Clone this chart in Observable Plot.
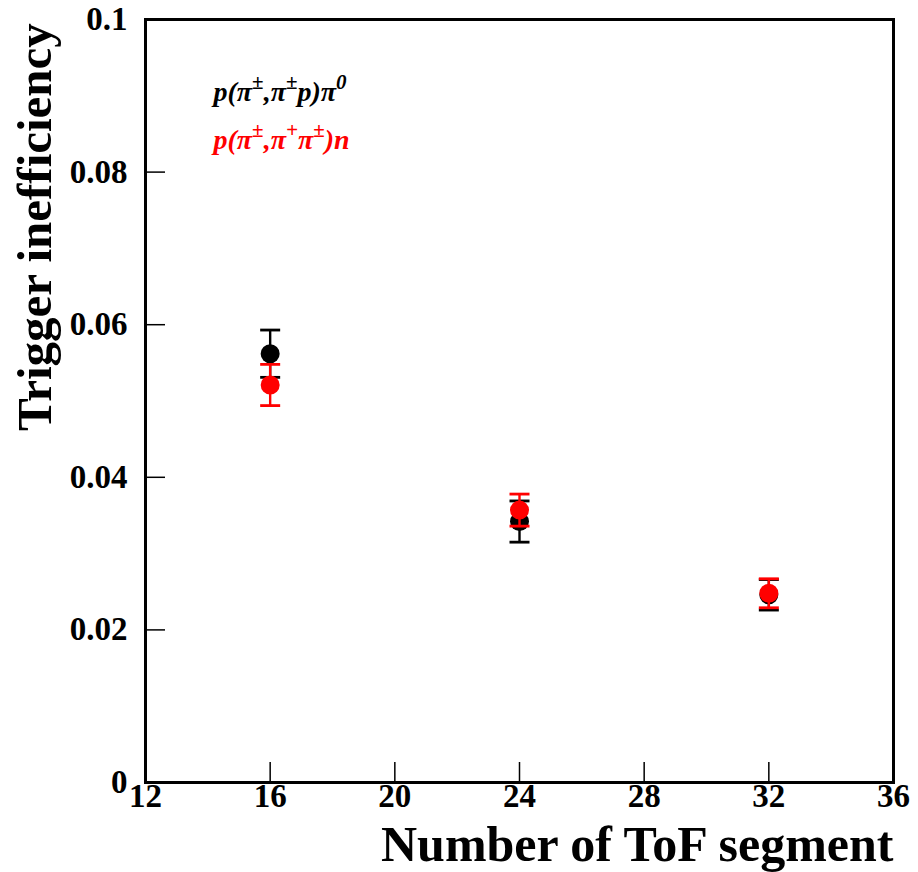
<!DOCTYPE html>
<html>
<head>
<meta charset="utf-8">
<script src="https://cdn.jsdelivr.net/npm/d3@7"></script>
<script src="https://cdn.jsdelivr.net/npm/@observablehq/plot@0.6"></script>
<style>
  html, body { margin: 0; padding: 0; background: #fff; }
  #chart svg { display: block; }
</style>
</head>
<body>
<div id="chart"></div>
<script>
// ---- data ----
const segments = [16, 24, 32];
const chargedPiValues = [0.0562, 0.0342, 0.0246];   // p(π±,π±p)π0 (black)
const chargedPiErrors = [0.0031, 0.0027, 0.0020];
const threePiValues   = [0.0521, 0.0357, 0.0248];   // p(π±,π+π±)n (red)
const threePiErrors   = [0.0027, 0.0021, 0.0019];

const xTicks = [12, 16, 20, 24, 28, 32, 36];
const xTickLabels = ["12", "16", "20", "24", "28", "32", "36"];
const yTicks = [0, 0.02, 0.04, 0.06, 0.08, 0.1];
const yTickLabels = ["0", "0.02", "0.04", "0.06", "0.08", "0.1"];

const seriesNames = ["p(π±,π±p)π0", "p(π±,π+π±)n"];
const seriesColors = ["#000000", "#ff0000"];
// rich-text pieces for legend labels: [text, isSuperscript]
const legendParts = [
  [["p(π", 0], ["±", 1], [",π", 0], ["±", 1], ["p)π", 0], ["0", 1]],
  [["p(π", 0], ["±", 1], [",π", 0], ["+", 1], ["π", 0], ["±", 1], [")n", 0]]
];

const xTitle = "Number of ToF segment";
const yTitle = "Trigger inefficiency";

// ---- build ----
const black = segments.map((s, i) => ({x: s, v: chargedPiValues[i], e: chargedPiErrors[i]}));
const red = segments.map((s, i) => ({x: s, v: threePiValues[i], e: threePiErrors[i]}));

const W = 918, H = 872;
const mL = 145, mR = 25, mT = 19, mB = 90;
const frameW = W - mL - mR, frameH = H - mT - mB;
const tickLen = 20;
const font = "'Liberation Serif', 'Times New Roman', serif";

const capSymbol = {
  draw(context, size) {
    const r = 10;
    context.moveTo(-r, 0);
    context.lineTo(r, 0);
  }
};

function errMarks(data, color) {
  return [
    Plot.ruleX(data, {x: "x", y1: d => d.v - d.e, y2: d => d.v + d.e, stroke: color, strokeWidth: 2.4}),
    Plot.dot(data, {x: "x", y: d => d.v + d.e, symbol: capSymbol, stroke: color, strokeWidth: 2.8, fill: "none"}),
    Plot.dot(data, {x: "x", y: d => d.v - d.e, symbol: capSymbol, stroke: color, strokeWidth: 2.8, fill: "none"}),
    Plot.dot(data, {x: "x", y: "v", r: 9.5, fill: color, stroke: "none"})
  ];
}

const chart = Plot.plot({
  width: W,
  height: H,
  marginLeft: mL, marginRight: mR, marginTop: mT, marginBottom: mB,
  style: {fontFamily: font, background: "#fff", overflow: "visible"},
  x: {domain: [12, 36], axis: null},
  y: {domain: [0, 0.1], axis: null},
  marks: [
    // inward ticks
    Plot.ruleX(xTicks, {x: d => d, insetTop: frameH - tickLen, stroke: "#000", strokeWidth: 1.5}),
    Plot.ruleY(yTicks, {y: d => d, insetRight: frameW - tickLen, stroke: "#000", strokeWidth: 1.5}),
    Plot.frame({stroke: "#000", strokeWidth: 3}),
    // tick labels
    Plot.text(xTicks, {x: d => d, text: (d, i) => xTickLabels[i], frameAnchor: "bottom", dy: 24,
      fontSize: 33, fontWeight: "bold", fill: "#000"}),
    Plot.text(yTicks, {y: d => d, text: (d, i) => yTickLabels[i], frameAnchor: "left", dx: -18,
      textAnchor: "end", fontSize: 33, fontWeight: "bold", fill: "#000"}),
    // axis titles
    Plot.text([xTitle], {text: d => d, frameAnchor: "bottom-right", textAnchor: "end", lineAnchor: "bottom",
      dy: 78, fontSize: 50, fontWeight: "bold", fill: "#000"}),
    Plot.text([yTitle], {text: d => d, frameAnchor: "left", rotate: -90, textAnchor: "middle", lineAnchor: "bottom",
      dx: -95, dy: -174, fontSize: 49, fontWeight: "bold", fill: "#000"}),
    // data
    ...errMarks(black, seriesColors[0]),
    ...errMarks(red, seriesColors[1]),
    // legend
    Plot.text([seriesNames[0]], {text: d => d, frameAnchor: "top-left", textAnchor: "start", lineAnchor: "bottom",
      dx: 68, dy: 81, fontSize: 28, fontWeight: "bold", fontStyle: "italic", fill: seriesColors[0]}),
    Plot.text([seriesNames[1]], {text: d => d, frameAnchor: "top-left", textAnchor: "start", lineAnchor: "bottom",
      dx: 68, dy: 129, fontSize: 28, fontWeight: "bold", fontStyle: "italic", fill: seriesColors[1]})
  ]
});

// rich text for legend superscripts
const svgNS = "http://www.w3.org/2000/svg";
d3.select(chart).selectAll("text").each(function() {
  const idx = seriesNames.indexOf(this.textContent);
  if (idx < 0) return;
  while (this.firstChild) this.removeChild(this.firstChild);
  for (const [t, sup] of legendParts[idx]) {
    const ts = document.createElementNS(svgNS, "tspan");
    ts.textContent = t;
    if (sup) {
      ts.setAttribute("baseline-shift", "super");
      ts.setAttribute("font-size", "75%");
      ts.setAttribute("font-style", "italic");
    }
    this.appendChild(ts);
  }
});

document.getElementById("chart").appendChild(chart);
</script>
</body>
</html>
